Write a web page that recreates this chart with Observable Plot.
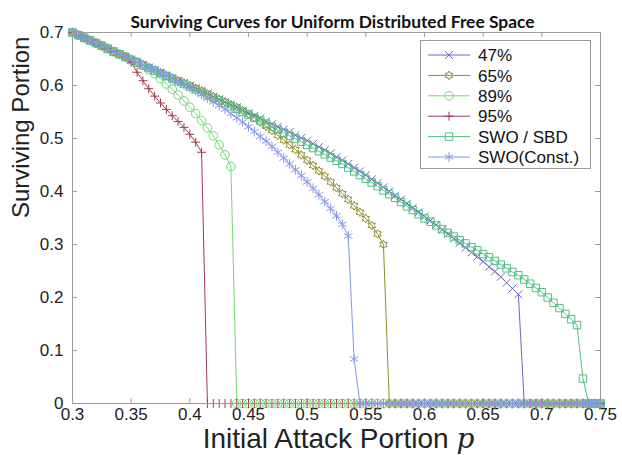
<!DOCTYPE html>
<html><head><meta charset="utf-8">
<script src="https://cdn.jsdelivr.net/npm/d3@7"></script>
<script src="https://cdn.jsdelivr.net/npm/@observablehq/plot@0.6"></script>
<style>
body{margin:0;background:#fff;}
#wrap{position:relative;width:622px;height:455px;}
</style></head><body><div id="wrap"></div>
<script>
const xs = [0.300,0.305,0.310,0.315,0.320,0.325,0.330,0.335,0.340,0.345,
 0.350,0.355,0.360,0.365,0.370,0.375,0.380,0.385,0.390,0.395,
 0.400,0.405,0.410,0.415,0.420,0.425,0.430,0.435,0.440,0.445,
 0.450,0.455,0.460,0.465,0.470,0.475,0.480,0.485,0.490,0.495,
 0.500,0.505,0.510,0.515,0.520,0.525,0.530,0.535,0.540,0.545,
 0.550,0.555,0.560,0.565,0.570,0.575,0.580,0.585,0.590,0.595,
 0.600,0.605,0.610,0.615,0.620,0.625,0.630,0.635,0.640,0.645,
 0.650,0.655,0.660,0.665,0.670,0.675,0.680,0.685,0.690,0.695,
 0.700,0.705,0.710,0.715,0.720,0.725,0.730,0.735,0.740,0.745,
 0.750];

const s47 = [.700,.695,.690,.685,.680,.675,.670,.664,.659,.654,
 .649,.644,.639,.634,.629,.624,.619,.614,.609,.605,
 .600,.595,.590,.585,.579,.574,.569,.564,.559,.553,
 .548,.543,.538,.532,.527,.522,.517,.512,.506,.501,
 .496,.490,.484,.478,.472,.465,.459,.452,.445,.438,
 .431,.423,.416,.408,.400,.392,.385,.377,.369,.361,
 .353,.345,.337,.328,.320,.311,.303,.294,.285,.277,
 .268,.258,.249,.239,.228,.217,.206,0,0,0,
 0,0,0,0,0,0,0,0,0,0,
 0];

const s65 = [.700,.695,.690,.685,.680,.675,.670,.664,.659,.654,
 .649,.644,.639,.634,.629,.624,.619,.614,.609,.605,
 .600,.595,.590,.585,.579,.574,.569,.564,.559,.553,
 .546,.539,.531,.523,.515,.506,.497,.488,.479,.469,
 .459,.449,.439,.429,.418,.407,.396,.385,.373,.361,
 .349,.336,.320,.300,0,0,0,0,0,0,
 0,0,0,0,0,0,0,0,0,0,
 0,0,0,0,0,0,0,0,0,0,
 0,0,0,0,0,0,0,0,0,0,
 0];

const s89 = [.700,.695,.690,.685,.680,.675,.670,.664,.659,.654,
 .649,.644,.638,.630,.622,.613,.603,.593,.582,.571,
 .559,.547,.534,.520,.505,.488,.469,.447,0,0,
 0,0,0,0,0,0,0,0,0,0,
 0,0,0,0,0,0,0,0,0,0,
 0,0,0,0,0,0,0,0,0,0,
 0,0,0,0,0,0,0,0,0,0,
 0,0,0,0,0,0,0,0,0,0,
 0,0,0,0,0,0,0,0,0,0,
 0];

const s95 = [.700,.695,.690,.685,.680,.675,.670,.664,.659,.654,
 .644,.625,.609,.594,.580,.567,.555,.543,.532,.521,
 .508,.493,.474,0,0,0,0,0,0,0,
 0,0,0,0,0,0,0,0,0,0,
 0,0,0,0,0,0,0,0,0,0,
 0,0,0,0,0,0,0,0,0,0,
 0,0,0,0,0,0,0,0,0,0,
 0,0,0,0,0,0,0,0,0,0,
 0,0,0,0,0,0,0,0,0,0,
 0];

const sSBD = [.700,.695,.690,.685,.680,.675,.669,.664,.659,.654,
 .648,.643,.638,.633,.628,.623,.618,.613,.608,.603,
 .598,.593,.588,.582,.577,.572,.567,.561,.556,.550,
 .545,.539,.534,.528,.522,.517,.511,.505,.500,.494,
 .488,.482,.476,.470,.464,.458,.452,.445,.438,.431,
 .424,.417,.410,.402,.395,.388,.380,.372,.365,.357,
 .349,.343,.336,.329,.322,.315,.308,.302,.295,.289,
 .282,.276,.269,.262,.255,.248,.242,.234,.226,.218,
 .210,.200,.190,.180,.169,.159,.148,.047,0,0,
 0];

const sConst = [.700,.695,.690,.685,.680,.675,.670,.664,.659,.654,
 .649,.644,.639,.634,.629,.624,.619,.613,.607,.602,
 .596,.590,.583,.576,.569,.562,.555,.547,.539,.531,
 .522,.513,.504,.495,.485,.474,.463,.452,.441,.430,
 .418,.406,.394,.381,.368,.354,.338,.316,.084,0,
 0,0,0,0,0,0,0,0,0,0,
 0,0,0,0,0,0,0,0,0,0,
 0,0,0,0,0,0,0,0,0,0,
 0,0,0,0,0,0,0,0,0,0,
 0];

const seriesNames = ["47%", "65%", "89%", "95%", "SWO / SBD", "SWO(Const.)"];
const seriesValues = [s47, s65, s89, s95, sSBD, sConst];
const colors = ["#6e62cc", "#8e8e2c", "#6fdc6a", "#a23a4c", "#52bf85", "#8796ee"];
const xTicks = [0.3, 0.35, 0.4, 0.45, 0.5, 0.55, 0.6, 0.65, 0.7, 0.75];
const yTicks = [0, 0.1, 0.2, 0.3, 0.4, 0.5, 0.6, 0.7];
const titleText = "Surviving Curves for Uniform Distributed Free Space";
const xLabel = "Initial Attack Portion";
const yLabel = "Surviving Portion";

const hexagram = {draw(ctx, size) {
  const R = Math.sqrt(size / Math.PI) * 1.2, r = R / Math.sqrt(3);
  for (let k = 0; k < 12; k++) {
    const a = -Math.PI / 2 + k * Math.PI / 6, rr = k % 2 === 0 ? R : r;
    const px = rr * Math.cos(a), py = rr * Math.sin(a);
    k ? ctx.lineTo(px, py) : ctx.moveTo(px, py);
  }
  ctx.closePath();
}};
const symbols = ["times", hexagram, "circle", "plus", "square", "asterisk"];
const d3Sym = {times: d3.symbolTimes, circle: d3.symbolCircle, plus: d3.symbolPlus, square: d3.symbolSquare, asterisk: d3.symbolAsterisk};
const radii = [3.6, 3.6, 4.3, 3, 4.2, 4.6];

const W = 622, H = 455, mL = 72, mR = 22, mT = 32, mB = 52;
const fw = W - mL - mR, fh = H - mT - mB;
const axisColor = "#9a9a9a";
const font = "'Liberation Sans', Arial, Helvetica, sans-serif";

const marks = [
  Plot.tickX(xTicks, {x: d => d, insetTop: fh - 5, stroke: axisColor}),
  Plot.tickX(xTicks, {x: d => d, insetBottom: fh - 5, stroke: axisColor}),
  Plot.tickY(yTicks, {y: d => d, insetRight: fw - 5, stroke: axisColor}),
  Plot.tickY(yTicks, {y: d => d, insetLeft: fw - 5, stroke: axisColor}),
  Plot.axisX(xTicks, {tickSize: 0, tickPadding: 4, tickFormat: d => String(d), fontSize: 17, fill: "#222", label: null}),
  Plot.axisY(yTicks, {tickSize: 0, tickPadding: 9, tickFormat: d => String(d), fontSize: 17, fill: "#222", label: null}),
];
seriesNames.forEach((name, i) => {
  const data = xs.map((x, j) => ({series: name, x, y: seriesValues[i][j]}));
  marks.push(Plot.line(data, {x: "x", y: "y", stroke: colors[i], strokeWidth: 1}));
  marks.push(Plot.dot(data, {x: "x", y: "y", symbol: symbols[i], r: radii[i], stroke: colors[i], fill: "none", strokeWidth: 1}));
});
marks.push(Plot.frame({stroke: axisColor}));
marks.push(Plot.text([titleText], {frameAnchor: "top", dy: -17, dx: -4, text: d => d, fontWeight: "bold", fontSize: 17.4, fontFamily: "Lato, 'Open Sans', sans-serif", fill: "#111"}));
marks.push(Plot.text([xLabel], {frameAnchor: "bottom", dy: 44, dx: 2, text: d => d, fontSize: 28, fill: "#222"}));
marks.push(Plot.text([yLabel], {frameAnchor: "left", dx: -51, rotate: -90, text: d => d, fontSize: 24, fill: "#222"}));

const chart = Plot.plot({
  width: W, height: H,
  marginLeft: mL, marginRight: mR, marginTop: mT, marginBottom: mB,
  style: {fontFamily: font, background: "#fff", overflow: "visible"},
  x: {domain: [0.3, 0.75]},
  y: {domain: [0, 0.7]},
  marks
});
document.getElementById("wrap").appendChild(chart);

const svg = d3.select(chart);
svg.selectAll("text").filter(function() { return this.textContent === xLabel; }).each(function() {
  const t = d3.select(this);
  t.append("tspan").text(" ");
  t.append("tspan").text("p").attr("font-style", "italic").attr("font-family", "'DejaVu Serif', 'Liberation Serif', serif");
});

// legend
const leg = svg.append("g").attr("text-anchor", "start");
leg.append("rect").attr("x", 420.5).attr("y", 40.5).attr("width", 170).attr("height", 128)
  .attr("fill", "#fff").attr("stroke", axisColor);
seriesNames.forEach((name, i) => {
  const y = 55 + i * 20.4;
  leg.append("line").attr("x1", 428).attr("x2", 470).attr("y1", y).attr("y2", y).attr("stroke", colors[i]);
  const type = typeof symbols[i] === "string" ? d3Sym[symbols[i]] : symbols[i];
  leg.append("path").attr("d", d3.symbol(type, radii[i] * radii[i] * Math.PI)())
    .attr("transform", `translate(449,${y})`).attr("fill", "none").attr("stroke", colors[i]);
  leg.append("text").attr("x", 478).attr("y", y).attr("dy", "0.36em").attr("font-size", 17)
    .attr("text-anchor", "start").attr("fill", "#111").attr("font-family", font).text(name);
});
</script>
</body></html>
